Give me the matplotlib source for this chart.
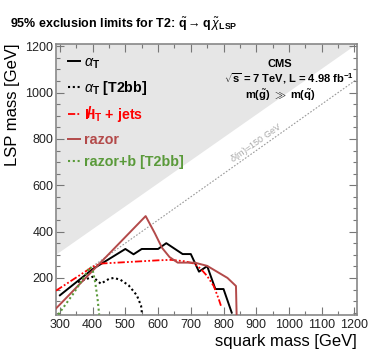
import matplotlib
matplotlib.use("Agg")
import matplotlib.pyplot as plt
from matplotlib.ticker import MultipleLocator
import numpy as np

plt.rcParams['font.family'] = ['Liberation Sans', 'DejaVu Sans']
plt.rcParams['mathtext.fontset'] = 'custom'
plt.rcParams['mathtext.rm'] = 'Liberation Sans'
plt.rcParams['mathtext.it'] = 'Liberation Sans:italic'
plt.rcParams['mathtext.bf'] = 'Liberation Sans:bold'

# ---- data ----
alphaT_x = [300, 400, 500, 525, 550, 600, 625, 675, 700, 725, 750, 775, 800, 825]
alphaT_y = [125, 238, 325, 302, 325, 325, 350, 303, 303, 227, 251, 152, 152, 50]

alphaT_bb_x = [355, 375, 400, 425, 450, 465, 485, 510, 535, 548, 551]
alphaT_bb_y = [182, 192, 205, 175, 196, 200, 192, 168, 125, 80, 42]

mht_x = [288, 400, 425, 500, 550, 600, 640, 680, 710, 730, 750, 770, 785, 792]
mht_y = [145, 248, 262, 268, 272, 276, 278, 272, 262, 240, 208, 165, 110, 80]

razor_x = [288, 562, 590, 612, 635, 660, 712, 750, 812, 838, 840]
razor_y = [68, 467, 393, 330, 290, 266, 266, 252, 200, 165, 40]

razorb_x = [295, 340, 370, 392, 400, 408, 415, 420]
razorb_y = [42, 130, 195, 248, 235, 180, 110, 42]

legend_labels = [r'$\alpha_\mathbf{T}$', r'$\alpha_\mathbf{T}$ [T2bb]',
                 r'H$_\mathbf{T}$ + jets', 'razor', 'razor+b [T2bb]']

diag_x = [400, 1208]
delta_m = 150
xlim = [288, 1208]
ylim = [40, 1212]

fig = plt.figure(figsize=(3.74, 3.59), dpi=100)
ax = fig.add_axes([0.1497, 0.1226, 0.805, 0.7562])
ax.set_xlim(xlim)
ax.set_ylim(ylim)

# kinematically forbidden region (m_LSP > m_squark)
ax.fill_between([xlim[0], xlim[1]], [xlim[0] + 15, xlim[1] + 5], [ylim[1], ylim[1]],
                color='#e6e6e6', lw=0, zorder=0)

# delta m = 150 GeV line
dx = np.array(diag_x)
ax.plot(dx, dx - delta_m, color='#999999', ls=(0, (1.5, 1.5)), lw=0.8, zorder=1)
ax.text(900, 782, r'$\delta$(m)=150 GeV', rotation=35.3, color='#a8a8a8',
        fontsize=6.5, ha='center', va='center', rotation_mode='anchor')

razor_col = '#b34a4a'
green_col = '#5a9a3a'
mht_col = '#ff0000'

ax.plot(alphaT_x, alphaT_y, color='black', lw=1.4, label=legend_labels[0], zorder=3)
ax.plot(alphaT_bb_x, alphaT_bb_y, color='black', lw=1.5, ls=(0, (1, 1.3)),
        label=legend_labels[1], zorder=3)
ax.plot(mht_x, mht_y, color=mht_col, lw=1.3, ls=(0, (4, 1.2, 1, 1.2, 1, 1.2)),
        label=legend_labels[2], zorder=3)
ax.plot(razor_x, razor_y, color=razor_col, lw=1.4, label=legend_labels[3], zorder=3)
ax.plot(razorb_x, razorb_y, color=green_col, lw=1.5, ls=(0, (1, 1.3)),
        label=legend_labels[4], zorder=3)

leg = ax.legend(loc='upper left', bbox_to_anchor=(0.005, 0.993), frameon=False,
                handlelength=0.85, handletextpad=0.3, labelspacing=0.6,
                borderaxespad=0.3,
                prop={'weight': 'bold', 'size': 10.3},
                labelcolor=['black', 'black', mht_col, razor_col, green_col])

ax.text(973, 1123, 'CMS', fontsize=8, fontweight='bold', ha='center', va='center')
ax.text(1000, 1059, r'$\sqrt{\mathbf{s}}$ = 7 TeV, L = 4.98 fb$^{\mathbf{-1}}$',
        fontsize=8, fontweight='bold', ha='center', va='center')
ax.text(973, 990, r'm($\tilde{\mathbf{g}}$) $\gg$ m($\tilde{\mathbf{q}}$)',
        fontsize=8, fontweight='bold', ha='center', va='center')

ax.xaxis.set_major_locator(MultipleLocator(100))
ax.xaxis.set_minor_locator(MultipleLocator(50))
ax.yaxis.set_major_locator(MultipleLocator(200))
ax.yaxis.set_minor_locator(MultipleLocator(50))
ax.tick_params(which='both', direction='in', top=True, right=True, colors='#777777',
               labelcolor='#222222', labelsize=9)
ax.tick_params(which='major', length=6, width=0.8)
ax.tick_params(which='minor', length=3, width=0.8)
ax.tick_params(axis='x', pad=3)
ax.tick_params(axis='y', pad=2)
for s in ax.spines.values():
    s.set_color('#888888')
    s.set_linewidth(1.2)

ax.set_xlabel('squark mass [GeV]', fontsize=12, ha='right', x=1.0, labelpad=2)
ax.set_ylabel('LSP mass [GeV]', fontsize=12, ha='right', y=1.0, labelpad=4)

fig.text(0.027, 0.933,
         r'95% exclusion limits for T2: $\tilde{\mathbf{q}} \rightarrow \mathbf{q}\,\tilde{\chi}_{\mathbf{LSP}}$',
         fontsize=9, fontweight='bold', ha='left', va='center')

# slash through the H of the missing-HT legend entry
fig.canvas.draw()
t = leg.get_texts()[2]
bb = t.get_window_extent()
fsz = t.get_fontsize() * fig.dpi / 72.0
hx = bb.x0 + 0.36 * fsz
hy = bb.y0 + 0.5 * bb.height + 0.12 * fsz
fig.text(hx / fig.bbox.width, hy / fig.bbox.height, '/', color=mht_col,
         fontsize=t.get_fontsize() * 1.1, fontweight='bold', ha='center', va='center')

fig.savefig('out.png', dpi=100)
